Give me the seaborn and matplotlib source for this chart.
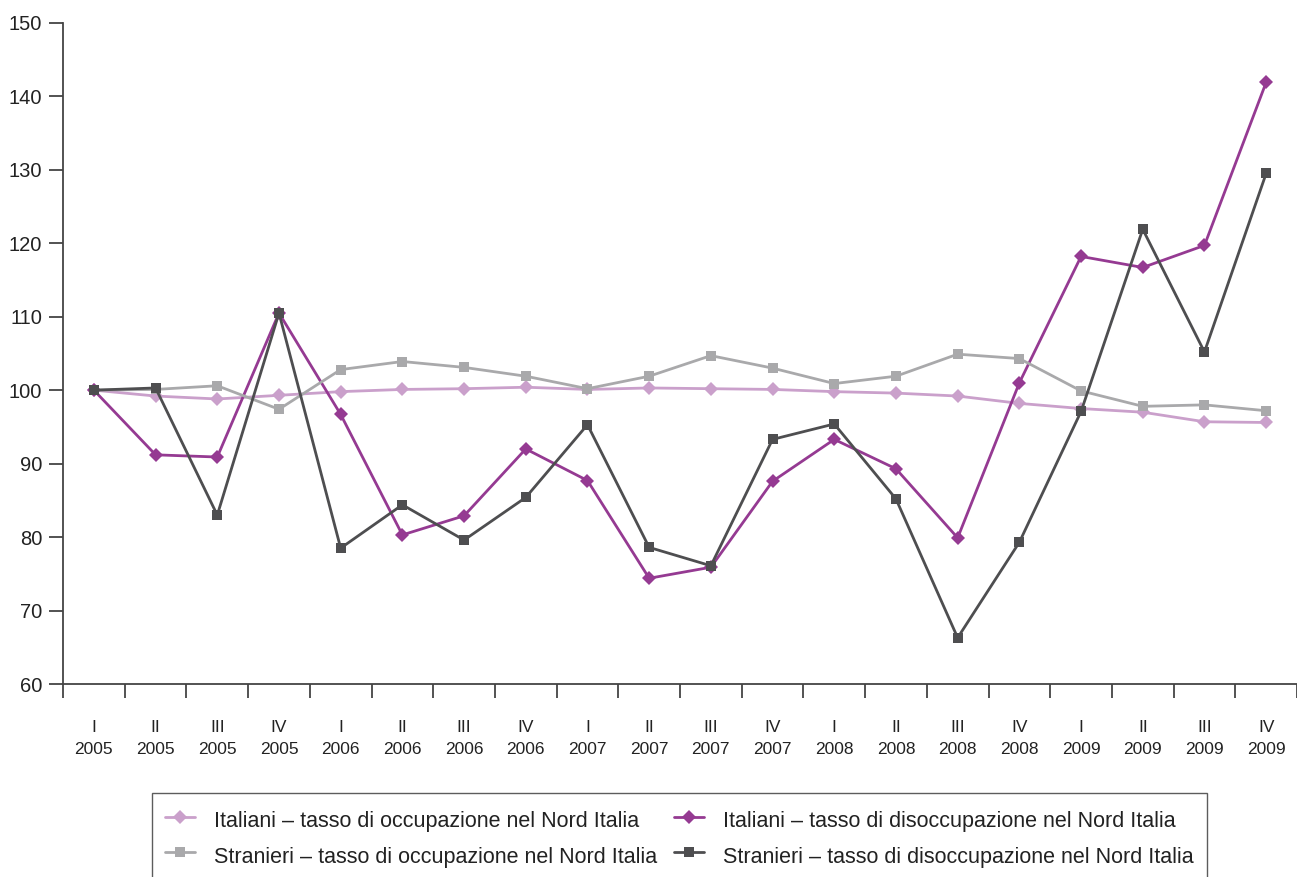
import pandas as pd
import numpy as np
import matplotlib
matplotlib.use("Agg")
import matplotlib.pyplot as plt
import seaborn as sns

# Quarter labels
quarters = ["I", "II", "III", "IV"] * 5
years = ["2005"] * 4 + ["2006"] * 4 + ["2007"] * 4 + ["2008"] * 4 + ["2009"] * 4
tick_labels = [f"{q}\n{y}" for q, y in zip(quarters, years)]

# Series (index 2005 I = 100)
it_occ = [100, 99.2, 98.8, 99.3, 99.8, 100.1, 100.2, 100.4, 100.1, 100.3,
          100.2, 100.1, 99.8, 99.6, 99.2, 98.2, 97.5, 97.0, 95.7, 95.6]
it_dis = [100, 91.2, 90.9, 110.5, 96.7, 80.3, 82.9, 92.0, 87.7, 74.4,
          75.9, 87.6, 93.3, 89.3, 79.9, 101.0, 118.2, 116.7, 119.7, 141.9]
st_occ = [100, 100.1, 100.6, 97.4, 102.8, 103.9, 103.1, 101.9, 100.2, 101.9,
          104.7, 103.0, 100.9, 101.9, 104.9, 104.3, 99.9, 97.8, 98.0, 97.2]
st_dis = [100, 100.3, 83.0, 110.5, 78.5, 84.4, 79.6, 85.4, 95.3, 78.6,
          76.1, 93.3, 95.4, 85.2, 66.3, 79.3, 97.1, 121.9, 105.2, 129.5]

series = [
    ("Italiani \u2013 tasso di occupazione nel Nord Italia", it_occ, "#caa0cb", "D"),
    ("Italiani \u2013 tasso di disoccupazione nel Nord Italia", it_dis, "#953a92", "D"),
    ("Stranieri \u2013 tasso di occupazione nel Nord Italia", st_occ, "#a9a9ab", "s"),
    ("Stranieri \u2013 tasso di disoccupazione nel Nord Italia", st_dis, "#4e4e50", "s"),
]

sns.set_style("ticks")
plt.rcParams["font.family"] = ["Liberation Sans", "DejaVu Sans"]

fig = plt.figure(figsize=(12.97, 8.77), dpi=100)
ax = fig.add_axes([0.0486, 0.22, 0.9514, 0.754])

pos = np.arange(len(tick_labels))
handles = {}
for name, vals, color, marker in series:
    df = pd.DataFrame({"pos": pos, "value": vals})
    sns.lineplot(data=df, x="pos", y="value", ax=ax, color=color, marker=marker,
                 markersize=7 if marker == "D" else 6.5, markeredgewidth=0,
                 linewidth=2.0, label=name)
    handles[name] = ax.lines[-1]
if ax.get_legend() is not None:
    ax.get_legend().remove()

ax.set_xlim(-0.5, 19.4)
ax.set_ylim(60, 150)
ax.set_yticks(range(60, 151, 10))
ax.set_xticks(np.arange(-0.5, 19.6, 1.0))
ax.set_xticklabels([])
ax.set_xticks(pos, minor=True)
ax.set_xticklabels(tick_labels, minor=True, fontsize=12.5, color="#222222",
                   linespacing=1.55)
ax.tick_params(axis="x", which="minor", length=0, pad=26)
ax.tick_params(axis="x", which="major", length=10, width=1.3, color="#444444",
               direction="out")
ax.tick_params(axis="y", length=10, width=1.3, color="#444444", labelsize=14.5,
               labelcolor="#222222", pad=5)
ax.set_xlabel("")
ax.set_ylabel("")
for side in ["top", "right"]:
    ax.spines[side].set_visible(False)
for side in ["left", "bottom"]:
    ax.spines[side].set_linewidth(1.3)
    ax.spines[side].set_color("#444444")

# legend below the plot, two columns, bottom edge runs off the figure
order = [series[0][0], series[2][0], series[1][0], series[3][0]]
leg = fig.legend([handles[n] for n in order], order, loc="upper left",
                 bbox_to_anchor=(152 / 1297, 1 - 793 / 877),
                 bbox_transform=fig.transFigure, borderaxespad=0,
                 ncol=2, fontsize=15.5, frameon=True, fancybox=False,
                 handlelength=1.4, handleheight=1.65, handletextpad=0.9,
                 columnspacing=0.75, labelcolor="#222222", borderpad=0.6,
                 labelspacing=0.33)
leg.get_frame().set_edgecolor("#333333")
leg.get_frame().set_linewidth(1.0)

fig.savefig("out.png", dpi=100)
